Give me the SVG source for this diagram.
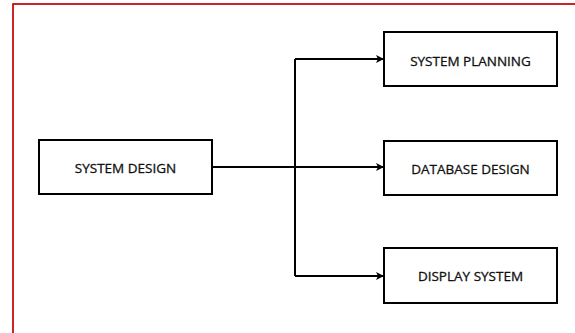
<svg xmlns="http://www.w3.org/2000/svg" width="575" height="333" viewBox="0 0 575 333">
<style>
.box{fill:#fff;stroke:#000;stroke-width:2}
.lbl{font-family:"Open Sans","Liberation Sans",sans-serif;font-size:13.5px;fill:#111;stroke:#111;stroke-width:0.3;text-anchor:middle}
.conn{fill:none;stroke:#000;stroke-width:2}
</style>
<defs>
<marker id="arr" markerWidth="8" markerHeight="8" refX="8" refY="4" orient="auto" markerUnits="userSpaceOnUse">
<path d="M0,0 L8,4 L0,8 L2,4 Z" fill="#000"/>
</marker>
</defs>
<rect x="0" y="0" width="575" height="333" fill="#fff"/>
<rect x="13" y="4" width="600" height="400" fill="none" stroke="#c00000" stroke-width="1.7"/>
<g id="connectors">
<path class="conn" d="M212,167 L384,167" marker-end="url(#arr)"/>
<path class="conn" d="M295,59 L295,276"/>
<path class="conn" d="M295,59 L384,59" marker-end="url(#arr)"/>
<path class="conn" d="M295,276 L384,276" marker-end="url(#arr)"/>
</g>
<g id="system-design">
<rect class="box" x="39" y="140" width="173" height="54"/>
<text class="lbl" x="125.5" y="173">SYSTEM DESIGN</text>
</g>
<g id="system-planning">
<rect class="box" x="384" y="32" width="173" height="54"/>
<text class="lbl" x="470.5" y="66">SYSTEM PLANNING</text>
</g>
<g id="database-design">
<rect class="box" x="384" y="141" width="173" height="54"/>
<text class="lbl" x="470.5" y="174">DATABASE DESIGN</text>
</g>
<g id="display-system">
<rect class="box" x="384" y="248" width="173" height="55"/>
<text class="lbl" x="470.5" y="281">DISPLAY SYSTEM</text>
</g>
</svg>
